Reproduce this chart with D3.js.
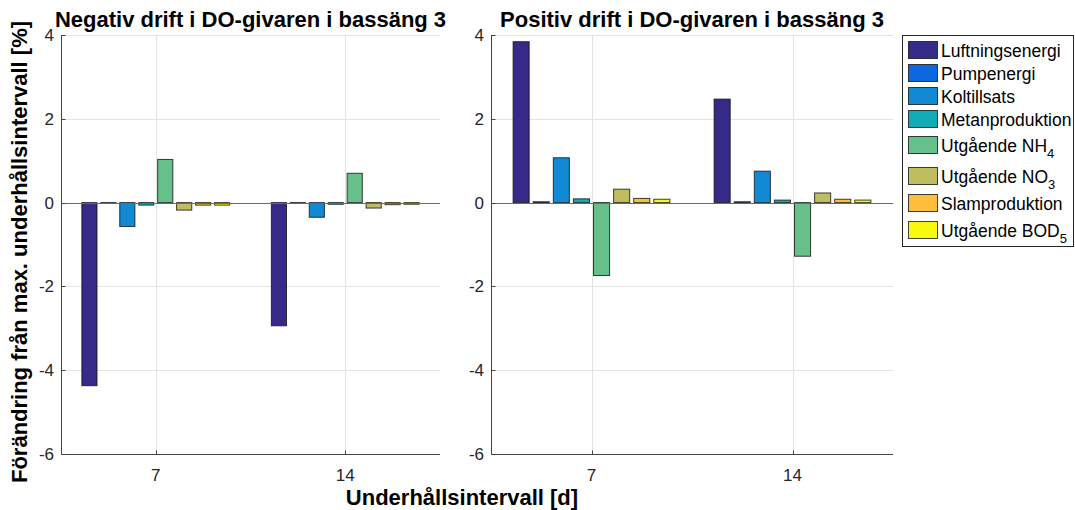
<!DOCTYPE html>
<html lang="sv">
<head>
    <meta charset="UTF-8">
    <title>Drift i DO-givaren</title>
    <script src="https://d3js.org/d3.v7.min.js"></script>
    <style>
        body { margin: 0; background: #fff; }
        svg { display: block; font-family: "Liberation Sans", Arial, sans-serif; }
        .tick-label { font-size: 17px; fill: #262626; }
        .panel-title, .axis-title { font-size: 22px; font-weight: bold; fill: #000; }
        .legend-label { font-size: 17.5px; fill: #000; }
    </style>
</head>
<body>
<svg id="chart"></svg>
<script>
    // data
    const intervals = [7, 14];
    const seriesNames = ["Luftningsenergi", "Pumpenergi", "Koltillsats", "Metanproduktion",
                         "Utgående NH", "Utgående NO", "Slamproduktion", "Utgående BOD"];
    const seriesSubs = ["", "", "", "", "4", "3", "", "5"];
    const seriesColors = ["#352a87", "#0d67e0", "#1289d5", "#12aab6",
                          "#65c08a", "#bfbd60", "#fdbe3c", "#f8fa0d"];
    const negativ7 = [-4.37, -0.01, -0.57, -0.06, 1.03, -0.18, -0.06, -0.06];
    const negativ14 = [-2.94, -0.01, -0.35, -0.04, 0.70, -0.13, -0.05, -0.04];
    const positiv7 = [3.84, 0.02, 1.07, 0.09, -1.74, 0.32, 0.10, 0.08];
    const positiv14 = [2.47, 0.02, 0.75, 0.06, -1.28, 0.23, 0.08, 0.06];
    const yTicks = [-6, -4, -2, 0, 2, 4];

    const width = 1075, height = 510;
    const svg = d3.select("#chart").attr("width", width).attr("height", height);

    const panels = [
        { title: "Negativ drift i DO-givaren i bassäng 3", x0: 61, x1: 440, values: [negativ7, negativ14] },
        { title: "Positiv drift i DO-givaren i bassäng 3", x0: 491, x1: 893, values: [positiv7, positiv14] }
    ];
    const yTop = 35, yBottom = 454;

    const y = d3.scaleLinear().domain([-6, 4]).range([yBottom, yTop]);
    // offsets of each series inside a group, in x data units (matlab grouped bar)
    const offset = d3.scaleBand().domain(d3.range(seriesNames.length))
        .range([-2.8, 2.8]).paddingInner(0.2).paddingOuter(0.1);

    panels.forEach(p => {
        const x = d3.scaleLinear().domain([3.5, 17.5]).range([p.x0, p.x1]);
        const g = svg.append("g");

        // grid
        g.selectAll(".ygrid").data(yTicks).enter().append("line")
            .attr("x1", p.x0).attr("x2", p.x1)
            .attr("y1", d => Math.round(y(d)) + 0.5).attr("y2", d => Math.round(y(d)) + 0.5)
            .attr("stroke", "#e3e3e3");
        g.selectAll(".xgrid").data(intervals).enter().append("line")
            .attr("x1", d => Math.round(x(d)) + 0.5).attr("x2", d => Math.round(x(d)) + 0.5)
            .attr("y1", yTop).attr("y2", yBottom)
            .attr("stroke", "#e3e3e3");

        // bars
        const rows = [];
        intervals.forEach((iv, i) => p.values[i].forEach((v, s) => rows.push({ iv, s, v })));
        g.selectAll("rect").data(rows).enter().append("rect")
            .attr("x", d => x(d.iv + offset(d.s)))
            .attr("width", d => x(d.iv + offset(d.s) + offset.bandwidth()) - x(d.iv + offset(d.s)))
            .attr("y", d => Math.min(y(d.v), y(0)))
            .attr("height", d => Math.abs(y(d.v) - y(0)))
            .attr("fill", d => seriesColors[d.s])
            .attr("stroke", "#111")
            .attr("stroke-opacity", 0.8)
            .attr("stroke-width", 1);

        // bar baseline
        g.append("line")
            .attr("x1", p.x0).attr("x2", p.x1)
            .attr("y1", Math.round(y(0)) + 0.5).attr("y2", Math.round(y(0)) + 0.5)
            .attr("stroke", "#6a6a6a");

        // axes (box off, inward ticks)
        const ax = Math.round(p.x0) + 0.5, ay = Math.round(yBottom) + 0.5;
        g.append("line").attr("x1", ax).attr("x2", ax).attr("y1", yTop).attr("y2", ay).attr("stroke", "#454545");
        g.append("line").attr("x1", ax).attr("x2", p.x1).attr("y1", ay).attr("y2", ay).attr("stroke", "#454545");
        g.selectAll(".ytick").data(yTicks).enter().append("line")
            .attr("x1", ax).attr("x2", ax + 4)
            .attr("y1", d => Math.round(y(d)) + 0.5).attr("y2", d => Math.round(y(d)) + 0.5)
            .attr("stroke", "#454545");
        g.selectAll(".xtick").data(intervals).enter().append("line")
            .attr("x1", d => Math.round(x(d)) + 0.5).attr("x2", d => Math.round(x(d)) + 0.5)
            .attr("y1", ay).attr("y2", ay - 4)
            .attr("stroke", "#454545");

        g.selectAll(".ylab").data(yTicks).enter().append("text")
            .attr("class", "tick-label")
            .attr("x", p.x0 - 7).attr("y", d => y(d) + 6)
            .attr("text-anchor", "end")
            .text(d => d);
        g.selectAll(".xlab").data(intervals).enter().append("text")
            .attr("class", "tick-label")
            .attr("x", d => x(d)).attr("y", yBottom + 27)
            .attr("text-anchor", "middle")
            .text(d => d);

        g.append("text").attr("class", "panel-title")
            .attr("x", (p.x0 + p.x1) / 2).attr("y", 27)
            .attr("text-anchor", "middle")
            .text(p.title);
    });

    svg.append("text").attr("class", "axis-title")
        .attr("transform", "translate(27,252) rotate(-90)")
        .attr("text-anchor", "middle")
        .text("Förändring från max. underhållsintervall [%]");

    svg.append("text").attr("class", "axis-title")
        .attr("x", 462).attr("y", 505)
        .attr("text-anchor", "middle")
        .text("Underhållsintervall [d]");

    // legend
    const swatchTops = [41, 64, 87, 110, 136, 167, 194, 221];
    const legend = svg.append("g");
    legend.append("rect")
        .attr("x", 902.5).attr("y", 35.5).attr("width", 171).attr("height", 211)
        .attr("fill", "#fff").attr("stroke", "#262626");
    const items = legend.selectAll(".item").data(seriesNames).enter().append("g")
        .attr("transform", (d, i) => `translate(908,${swatchTops[i]})`);
    items.append("rect")
        .attr("x", 0.5).attr("y", 0.5).attr("width", 29).attr("height", 17)
        .attr("fill", (d, i) => seriesColors[i])
        .attr("stroke", "#111").attr("stroke-opacity", 0.8);
    const labels = items.append("text").attr("class", "legend-label")
        .attr("x", 33).attr("y", 16);
    labels.append("tspan").text(d => d);
    labels.append("tspan")
        .attr("dy", 6).attr("font-size", "13px")
        .text((d, i) => seriesSubs[i]);
</script>
</body>
</html>
